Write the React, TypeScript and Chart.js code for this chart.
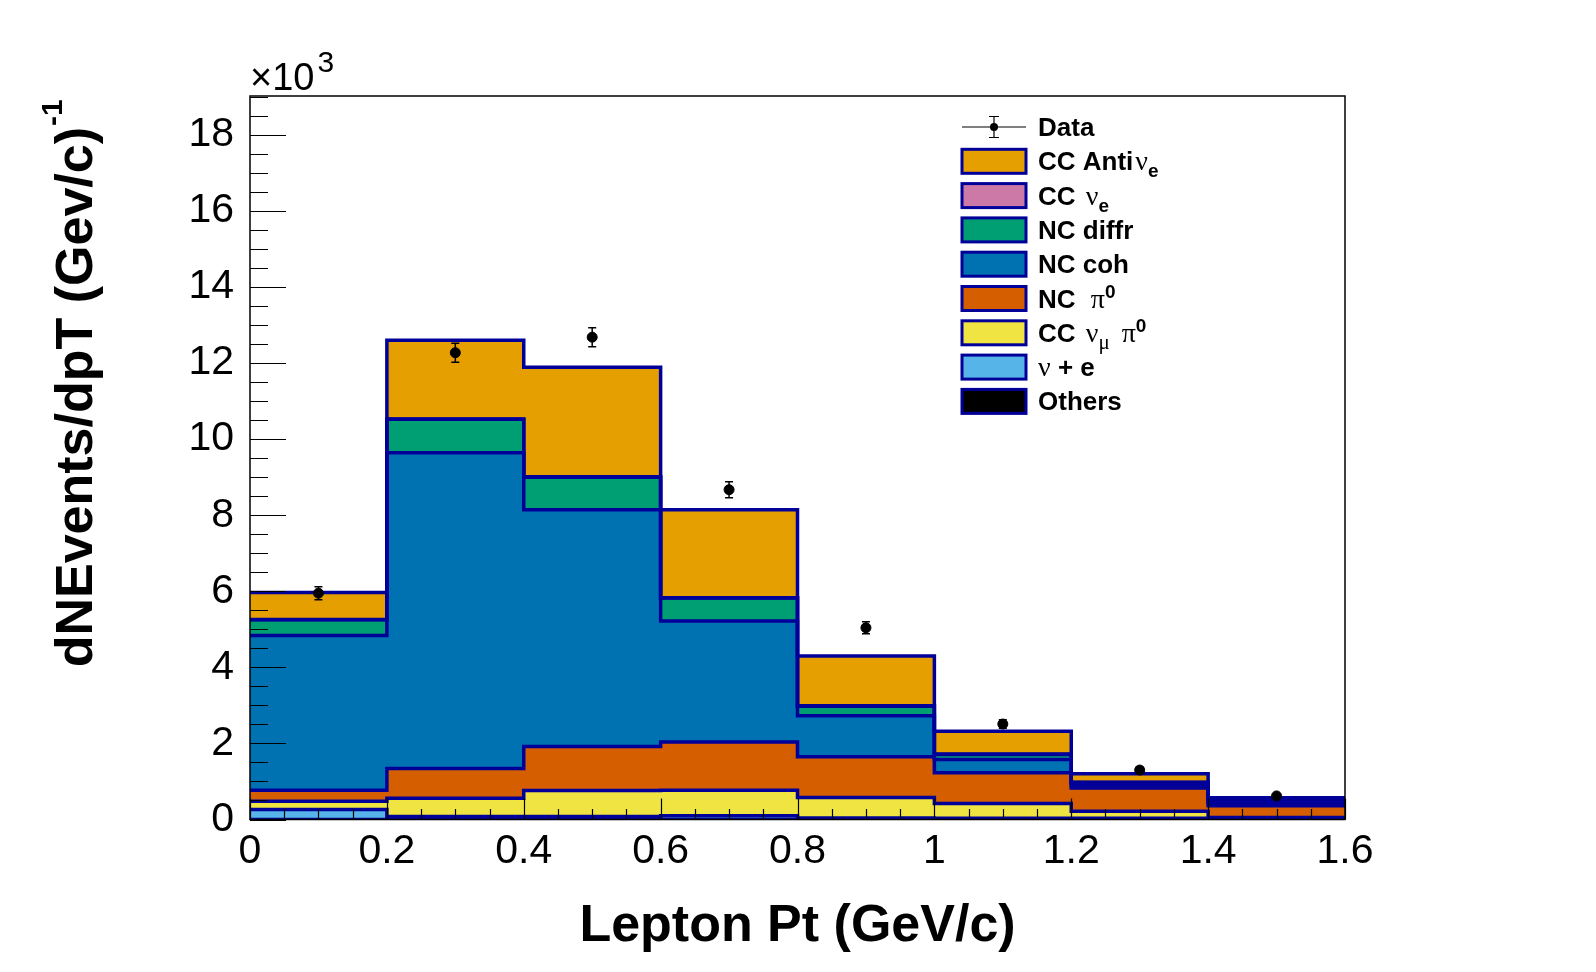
import React, { useEffect, useRef } from "react";
import { Chart, registerables } from "chart.js";

Chart.register(...registerables);

// ---------------- data (values in units of 10^3) ----------------
const binEdges = [0, 0.2, 0.4, 0.6, 0.8, 1.0, 1.2, 1.4, 1.6];
const binCenters = [0.1, 0.3, 0.5, 0.7, 0.9, 1.1, 1.3, 1.5];

// stack components, bottom -> top
const others = [0, 0, 0, 0, 0, 0, 0, 0];
const nuPlusE = [0.26, 0.08, 0.08, 0.1, 0.04, 0.03, 0.03, 0.01];
const ccNumuPi0 = [0.22, 0.48, 0.68, 0.67, 0.54, 0.39, 0.19, 0.04];
const ncPi0 = [0.29, 0.78, 1.16, 1.27, 1.07, 0.81, 0.61, 0.31];
const ncCoh = [4.07, 8.3, 6.22, 3.18, 1.08, 0.35, 0.06, 0.07];
const ncDiffr = [0.41, 0.88, 0.86, 0.6, 0.25, 0.13, 0.08, 0.05];
const ccNue = [0.01, 0.01, 0.01, 0.01, 0.01, 0.01, 0.01, 0.03];
const ccAntiNue = [0.71, 2.07, 2.88, 2.31, 1.31, 0.6, 0.22, 0.06];

const stackNames = ["Others", "ν + e", "CC νμ π0", "NC π0", "NC coh", "NC diffr", "CC νe", "CC Anti νe"];
const stackColors = ["#000000", "#56B4E9", "#F0E442", "#D55E00", "#0072B2", "#009E73", "#CC79A7", "#E69F00"];

const dataValues = [5.95, 12.27, 12.68, 8.67, 5.04, 2.51, 1.3, 0.62];
const dataErrors = [0.17, 0.25, 0.25, 0.21, 0.16, 0.11, 0.08, 0.06];

const xTickValues = [0, 0.2, 0.4, 0.6, 0.8, 1.0, 1.2, 1.4, 1.6];
const xTickLabels = ["0", "0.2", "0.4", "0.6", "0.8", "1", "1.2", "1.4", "1.6"];
const yTickValues = [0, 2, 4, 6, 8, 10, 12, 14, 16, 18];
const yTickLabels = ["0", "2", "4", "6", "8", "10", "12", "14", "16", "18"];
const yMax = 19.02;

const xTitle = "Lepton Pt (GeV/c)";
const yTitle = "dNEvents/dpT (Gev/c)";
const yTitleSup = "-1";

// ---------------- styling ----------------
const NAVY = "#000099";
const SANS = "'Liberation Sans', Arial, Helvetica, sans-serif";
const SERIF = "'Liberation Serif', 'DejaVu Serif', serif";
const LB = `bold 26px ${SANS}`;
const GR = `28px ${SERIF}`;
const SUB = `bold 19px ${SANS}`;
const SUBG = `21px ${SERIF}`;
const SUP = `bold 19px ${SANS}`;

type Seg = { t: string; f: string; dy?: number; dx?: number };

// legend rows, top -> bottom (matches stack top -> bottom)
const legendLabels: Seg[][] = [
  [{ t: "CC Anti", f: LB }, { t: "ν", f: GR, dx: 2 }, { t: "e", f: SUB, dy: 7 }],
  [{ t: "CC ", f: LB }, { t: "ν", f: GR, dx: 3 }, { t: "e", f: SUB, dy: 7 }],
  [{ t: "NC diffr", f: LB }],
  [{ t: "NC coh", f: LB }],
  [{ t: "NC ", f: LB }, { t: "π", f: GR, dx: 8 }, { t: "0", f: SUP, dy: -10 }],
  [{ t: "CC ", f: LB }, { t: "ν", f: GR, dx: 3 }, { t: "μ", f: SUBG, dy: 7 }, { t: "π", f: GR, dx: 12 }, { t: "0", f: SUP, dy: -10 }],
  [{ t: "ν", f: GR }, { t: " + e", f: LB }],
  [{ t: "Others", f: LB }],
];

function drawRich(ctx: CanvasRenderingContext2D, segs: Seg[], x: number, y: number) {
  let cx = x;
  for (const s of segs) {
    cx += s.dx || 0;
    ctx.font = s.f;
    ctx.fillText(s.t, cx, y + (s.dy || 0));
    cx += ctx.measureText(s.t).width;
  }
}

const rootPlugin = {
  id: "rootDecor",
  afterDatasetsDraw(chart: any) {
    const { ctx, chartArea: a } = chart;
    const xs = chart.scales.x;
    const ys = chart.scales.y;
    ctx.save();
    // error bars
    ctx.strokeStyle = "#000";
    ctx.lineWidth = 1.5;
    binCenters.forEach((c, i) => {
      const px = xs.getPixelForValue(c);
      const yt = ys.getPixelForValue(dataValues[i] + dataErrors[i]);
      const yb = ys.getPixelForValue(dataValues[i] - dataErrors[i]);
      ctx.beginPath();
      ctx.moveTo(px, yt);
      ctx.lineTo(px, yb);
      ctx.moveTo(px - 4, yt);
      ctx.lineTo(px + 4, yt);
      ctx.moveTo(px - 4, yb);
      ctx.lineTo(px + 4, yb);
      ctx.stroke();
    });
    // inward ticks
    ctx.lineWidth = 1.2;
    ctx.beginPath();
    for (let j = 0; j * 0.5 <= yMax; j++) {
      const py = Math.round(ys.getPixelForValue(j * 0.5)) + 0.5;
      const len = j % 4 === 0 ? 36 : 18;
      ctx.moveTo(a.left, py);
      ctx.lineTo(a.left + len, py);
    }
    for (let j = 0; j <= 32; j++) {
      const px = Math.round(xs.getPixelForValue(j * 0.05)) + 0.5;
      const len = j % 4 === 0 ? 21 : 10.5;
      ctx.moveTo(px, a.bottom);
      ctx.lineTo(px, a.bottom - len);
    }
    ctx.stroke();
    // frame
    ctx.lineWidth = 1.5;
    ctx.strokeRect(a.left, a.top, a.right - a.left, a.bottom - a.top);
    ctx.restore();
  },
  afterDraw(chart: any) {
    const { ctx, chartArea: a } = chart;
    ctx.save();
    ctx.fillStyle = "#000";
    ctx.textBaseline = "alphabetic";
    // x10^3
    ctx.textAlign = "left";
    ctx.font = `38px ${SANS}`;
    ctx.fillText("×10", a.left, 90);
    const w10 = ctx.measureText("×10").width;
    ctx.font = `30px ${SANS}`;
    ctx.fillText("3", a.left + w10 + 3, 72);
    // x title
    ctx.font = `bold 52px ${SANS}`;
    ctx.textAlign = "center";
    ctx.fillText(xTitle, (a.left + a.right) / 2, 941);
    // y title (rotated)
    ctx.textAlign = "left";
    ctx.font = `bold 52px ${SANS}`;
    const mainW = ctx.measureText(yTitle).width;
    ctx.save();
    ctx.translate(92, 127 + mainW);
    ctx.rotate(-Math.PI / 2);
    ctx.fillText(yTitle, 0, 0);
    ctx.font = `bold 30px ${SANS}`;
    ctx.fillText(yTitleSup, mainW + 1, -30);
    ctx.restore();
    // legend
    const boxX = 962;
    const boxW = 64;
    const boxH = 24;
    const textX = 1038;
    const rowY0 = 127;
    const rowDY = 34.3;
    // data row
    ctx.strokeStyle = "#000";
    ctx.lineWidth = 1.2;
    ctx.beginPath();
    ctx.moveTo(boxX, rowY0);
    ctx.lineTo(boxX + boxW, rowY0);
    const mx = boxX + boxW / 2;
    ctx.moveTo(mx, rowY0 - 10.5);
    ctx.lineTo(mx, rowY0 + 10.5);
    ctx.moveTo(mx - 5, rowY0 - 10.5);
    ctx.lineTo(mx + 5, rowY0 - 10.5);
    ctx.moveTo(mx - 5, rowY0 + 10.5);
    ctx.lineTo(mx + 5, rowY0 + 10.5);
    ctx.stroke();
    ctx.beginPath();
    ctx.arc(mx, rowY0, 4, 0, Math.PI * 2);
    ctx.fill();
    drawRich(ctx, [{ t: "Data", f: LB }], textX, rowY0 + 9);
    legendLabels.forEach((segs, k) => {
      const cy = rowY0 + rowDY * (k + 1);
      const colorIdx = stackColors.length - 1 - k;
      ctx.fillStyle = stackColors[colorIdx];
      ctx.fillRect(boxX, cy - boxH / 2, boxW, boxH);
      ctx.strokeStyle = NAVY;
      ctx.lineWidth = 3;
      ctx.strokeRect(boxX, cy - boxH / 2, boxW, boxH);
      ctx.fillStyle = "#000";
      drawRich(ctx, segs, textX, cy + 9);
    });
    ctx.restore();
  },
};

export default function App() {
  const ref = useRef<HTMLCanvasElement>(null);
  useEffect(() => {
    const canvas = ref.current;
    if (!canvas) return;
    Chart.defaults.font.family = SANS;
    Chart.defaults.color = "#000";

    const series = [others, nuPlusE, ccNumuPi0, ncPi0, ncCoh, ncDiffr, ccNue, ccAntiNue];
    const cum: number[][] = [];
    let running = binCenters.map(() => 0);
    series.forEach((s) => {
      running = running.map((v, i) => v + s[i]);
      cum.push(running.slice());
    });
    const nBins = binCenters.length;
    const stackDatasets = series.map((_, k) => ({
      type: "line" as const,
      label: stackNames[k],
      data: binEdges.map((x, i) => ({ x, y: cum[k][Math.min(i, nBins - 1)] })),
      stepped: "before" as const,
      fill: k === 0 ? "origin" : "-1",
      backgroundColor: stackColors[k],
      borderColor: NAVY,
      borderWidth: 3.5,
      pointRadius: 0,
      pointHoverRadius: 0,
      tension: 0,
    }));
    const dataDataset = {
      type: "line" as const,
      label: "Data",
      data: binCenters.map((x, i) => ({ x, y: dataValues[i] })),
      showLine: false,
      pointRadius: 5,
      pointHoverRadius: 5,
      pointStyle: "circle",
      pointBackgroundColor: "#000",
      pointBorderColor: "#000",
      borderColor: "#000",
      backgroundColor: "#000",
      fill: false,
    };

    const chart = new Chart(canvas, {
      type: "line",
      data: { datasets: [dataDataset as any, ...(stackDatasets as any[])] },
      options: {
        animation: false,
        responsive: false,
        devicePixelRatio: 1,
        events: [],
        layout: { padding: { left: 190, right: 251, top: 96, bottom: 72.5 } },
        plugins: {
          legend: { display: false },
          tooltip: { enabled: false },
          filler: { propagate: false, drawTime: "beforeDatasetsDraw" },
        } as any,
        scales: {
          x: {
            type: "linear",
            min: 0,
            max: 1.6,
            grid: { display: false },
            border: { display: false },
            ticks: {
              font: { size: 41 },
              color: "#000",
              padding: 0,
              maxRotation: 0,
              autoSkip: false,
              callback: (_v: any, i: number) => xTickLabels[i],
            },
            afterBuildTicks: (s: any) => {
              s.ticks = xTickValues.map((v) => ({ value: v }));
            },
            afterFit: (s: any) => {
              s.height = 80;
            },
          },
          y: {
            type: "linear",
            min: 0,
            max: yMax,
            grid: { display: false },
            border: { display: false },
            ticks: {
              font: { size: 41 },
              color: "#000",
              padding: 8,
              autoSkip: false,
              callback: (_v: any, i: number) => yTickLabels[i],
            },
            afterBuildTicks: (s: any) => {
              s.ticks = yTickValues.map((v) => ({ value: v }));
            },
            afterFit: (s: any) => {
              s.width = 60;
            },
          },
        },
      } as any,
      plugins: [rootPlugin as any],
    });
    return () => chart.destroy();
  }, []);

  return (
    <div style={{ position: "fixed", left: 0, top: 0, width: 1596, height: 972, background: "#fff" }}>
      <canvas ref={ref} width={1596} height={972} style={{ display: "block" }} />
    </div>
  );
}
